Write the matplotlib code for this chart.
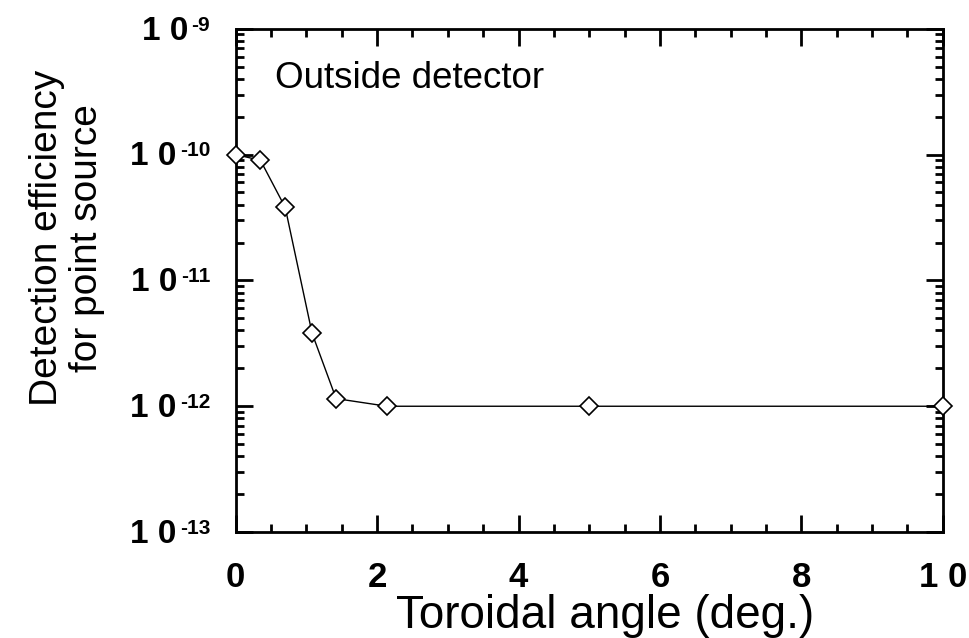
#!/usr/bin/env python3
"""Detection efficiency for a point source vs toroidal angle (outside detector)."""

import matplotlib

matplotlib.use("Agg")
import matplotlib.pyplot as plt
from matplotlib.ticker import LogLocator, MultipleLocator, FixedLocator, FixedFormatter, NullFormatter

plt.rcParams["font.family"] = ["Liberation Sans", "DejaVu Sans"]

# toroidal angle (deg.) and detection efficiency
angle = [0.0, 0.35, 0.7, 1.08, 1.42, 2.14, 5.0, 10.0]
efficiency = [1.0e-10, 9.0e-11, 3.8e-11, 3.8e-12, 1.15e-12, 1.0e-12, 1.0e-12, 1.0e-12]

y_decades = [1e-13, 1e-12, 1e-11, 1e-10, 1e-9]
y_exponents = ["-13", "-12", "-11", "-10", "-9"]
x_ticks = [0, 2, 4, 6, 8, 10]
x_labels = ["0", "2", "4", "6", "8", "1 0"]


def main():
    fig = plt.figure(figsize=(9.7, 6.38), dpi=100)
    ax = fig.add_axes([0.243, 0.166, 0.729, 0.789])

    ax.plot(angle, efficiency, color="black", linewidth=1.0,
            marker="D", markersize=9.5, markerfacecolor="white",
            markeredgecolor="black", markeredgewidth=1.2, clip_on=False, zorder=3)

    ax.set_yscale("log")
    ax.set_xlim(0, 10)
    ax.set_ylim(1e-13, 1e-9)

    ax.yaxis.set_major_locator(FixedLocator(y_decades))
    ax.yaxis.set_major_formatter(NullFormatter())
    ax.yaxis.set_minor_locator(LogLocator(base=10, subs=range(2, 10)))
    ax.yaxis.set_minor_formatter(NullFormatter())
    ax.xaxis.set_major_locator(FixedLocator(x_ticks))
    ax.xaxis.set_major_formatter(FixedFormatter(x_labels))
    ax.xaxis.set_minor_locator(MultipleLocator(0.5))

    ax.tick_params(which="both", direction="in", top=True, right=True, width=2)
    ax.tick_params(which="major", length=12)
    ax.tick_params(which="minor", length=6)
    ax.tick_params(axis="x", which="major", labelsize=25, pad=21)
    for lbl in ax.get_xticklabels():
        lbl.set_fontweight("bold")
    for side in ax.spines.values():
        side.set_linewidth(2)

    # "1 0" with a small raised exponent, right-aligned next to the axis
    for val, expo in zip(y_decades, y_exponents):
        sup = ax.annotate(expo, xy=(0, val), xycoords=("axes fraction", "data"),
                          xytext=(-18.5, 9.5), textcoords="offset points",
                          ha="right", va="top", fontsize=15, fontweight="bold")
        ax.annotate("1 0", xy=(0, 1), xycoords=sup, xytext=(-2, 0),
                    textcoords="offset points", ha="right", va="top",
                    fontsize=24, fontweight="bold")

    ax.set_xlabel("Toroidal angle (deg.)", fontsize=33, va="top")
    ax.xaxis.set_label_coords(0.522, -0.123)
    ax.set_ylabel("Detection efficiency\nfor point source", fontsize=28,
                  linespacing=1.13, va="center")
    ax.yaxis.set_label_coords(-0.239, 0.585)
    ax.text(0.055, 0.883, "Outside detector", transform=ax.transAxes,
            fontsize=26.5, va="baseline", ha="left")

    fig.savefig("out.png")


if __name__ == "__main__":
    main()
